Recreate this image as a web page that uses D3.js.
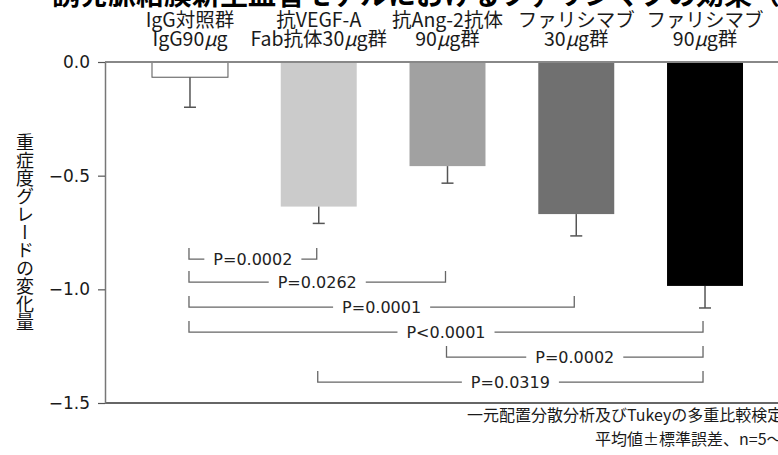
<!DOCTYPE html>
<html>
<head>
<meta charset="utf-8">
<script src="https://cdn.jsdelivr.net/npm/d3@7"></script>
<style>
  body { margin: 0; background: #fff; }
  svg { display: block; }
</style>
</head>
<body>
<div id="chart"></div>
<script>
// 重症度グレードの変化量：群ごとの平均値と標準誤差
const groupLine1 = ["IgG対照群", "抗VEGF-A", "抗Ang-2抗体", "ファリシマブ", "ファリシマブ"];
const groupLine2 = ["IgG90μg", "Fab抗体30μg群", "90μg群", "30μg群", "90μg群"];
const meanChange = [-0.067, -0.636, -0.458, -0.669, -0.985];
const stdError = [0.132, 0.074, 0.075, 0.096, 0.097];
const barColors = ["#ffffff", "#cbcbcb", "#a1a1a1", "#707070", "#000000"];

// 群間比較（Tukey）
const pairFrom = [0, 0, 0, 0, 2, 1];
const pairTo = [1, 2, 3, 4, 4, 4];
const pairLevel = [-0.867, -0.968, -1.078, -1.188, -1.298, -1.408];
const pValues = ["P=0.0002", "P=0.0262", "P=0.0001", "P<0.0001", "P=0.0002", "P=0.0319"];

const yTicks = [0, -0.5, -1.0, -1.5];
const yLabel = "重症度グレードの変化量";
const notes = ["一元配置分散分析及びTukeyの多重比較検定", "平均値±標準誤差、n=5～6"];

const W = 778, H = 455;
const jp = "'Noto Sans CJK JP', 'Noto Sans', sans-serif";
const num = "'DejaVu Sans', sans-serif";

const svg = d3.select("#chart").append("svg")
    .attr("width", W)
    .attr("height", H);

const y = d3.scaleLinear().domain([0, -1.5]).range([62, 403]);
const x = d3.scaleBand()
    .domain(d3.range(groupLine1.length))
    .range([105, 790])
    .paddingInner(0.41)
    .paddingOuter(0.365);
const cx = i => x(i) + x.bandwidth() / 2;

// タイトル（上端で切れている）
svg.append("text")
    .attr("x", 14).attr("y", 5)
    .attr("text-anchor", "end")
    .style("font-family", jp).style("font-size", "28px").style("font-weight", "bold")
    .text("レーザー");
svg.append("text")
    .attr("x", 52).attr("y", 5)
    .style("font-family", jp).style("font-size", "28px").style("font-weight", "bold")
    .text("誘発脈絡膜新生血管モデルにおけるファリシマブの効果（カニクイザル）");

// 群ラベル（上）
const head = svg.append("g").style("font-family", jp).style("font-size", "19.5px").attr("fill", "#1a1a1a");
groupLine1.forEach((t, i) => {
    head.append("text").attr("x", cx(i)).attr("y", 27).attr("text-anchor", "middle").text(t);
    const parts = groupLine2[i].split("μ");
    const t2 = head.append("text").attr("x", cx(i)).attr("y", 46).attr("text-anchor", "middle");
    t2.append("tspan").text(parts[0]);
    t2.append("tspan").style("font-style", "italic").text("μ");
    t2.append("tspan").text(parts[1]);
});

// 棒
svg.selectAll(".bar")
    .data(meanChange)
    .join("rect")
    .attr("class", "bar")
    .attr("x", (d, i) => x(i))
    .attr("y", y(0))
    .attr("width", x.bandwidth())
    .attr("height", d => y(d) - y(0))
    .attr("fill", (d, i) => barColors[i])
    .attr("stroke", (d, i) => i === 0 ? "#555" : "none")
    .attr("stroke-width", 1);

// 誤差棒
const err = svg.append("g").attr("stroke", "#555").attr("stroke-width", 1.5);
meanChange.forEach((m, i) => {
    err.append("line").attr("x1", cx(i)).attr("x2", cx(i)).attr("y1", y(m)).attr("y2", y(m - stdError[i]));
    err.append("line").attr("x1", cx(i) - 6).attr("x2", cx(i) + 6).attr("y1", y(m - stdError[i])).attr("y2", y(m - stdError[i]));
});

// 0 ライン と 下端ライン
svg.append("line").attr("x1", 105).attr("x2", W).attr("y1", y(0)).attr("y2", y(0))
    .attr("stroke", "#888").attr("stroke-width", 2);
svg.append("line").attr("x1", 105).attr("x2", W).attr("y1", y(-1.5)).attr("y2", y(-1.5))
    .attr("stroke", "#333").attr("stroke-width", 1.5);

// Y軸
const yAxis = svg.append("g")
    .attr("transform", "translate(105,0)")
    .call(d3.axisLeft(y).tickValues(yTicks).tickFormat(d3.format(".1f")).tickSize(7).tickSizeOuter(0).tickPadding(8));
yAxis.select(".domain").attr("stroke", "#777").attr("stroke-width", 1.5);
yAxis.selectAll(".tick line").attr("stroke", "#555").attr("stroke-width", 1.2);
yAxis.selectAll(".tick text").style("font-family", num).style("font-size", "17px").attr("fill", "#1a1a1a");

svg.append("text")
    .attr("x", 25).attr("y", 232)
    .attr("text-anchor", "middle")
    .style("writing-mode", "vertical-rl")
    .style("font-family", jp).style("font-size", "18px")
    .attr("fill", "#111")
    .text(yLabel);

// 有意差ブラケット
const br = svg.append("g");
pValues.forEach((p, k) => {
    const x1 = cx(pairFrom[k]) - 1, x2 = cx(pairTo[k]) - 2, yy = y(pairLevel[k]);
    br.append("path")
        .attr("d", `M${x1},${yy - 11}V${yy}H${x2}V${yy - 11}`)
        .attr("fill", "none").attr("stroke", "#666").attr("stroke-width", 1.3);
    const bg = br.append("rect").attr("fill", "#fff");
    const lab = br.append("text")
        .attr("x", (x1 + x2) / 2).attr("y", yy).attr("dy", "0.36em")
        .attr("text-anchor", "middle")
        .style("font-family", num).style("font-size", "16px")
        .attr("fill", "#222")
        .text(p);
    const bb = lab.node().getBBox();
    bg.attr("x", bb.x - 9).attr("y", yy - 3).attr("width", bb.width + 18).attr("height", 6);
});

// 注記
notes.forEach((t, i) => {
    svg.append("text")
        .attr("x", i === 0 ? 467 : 595).attr("y", i === 0 ? 421 : 445)
        .style("font-family", jp).style("font-size", "16px")
        .attr("fill", "#1a1a1a")
        .text(t);
});
</script>
</body>
</html>
